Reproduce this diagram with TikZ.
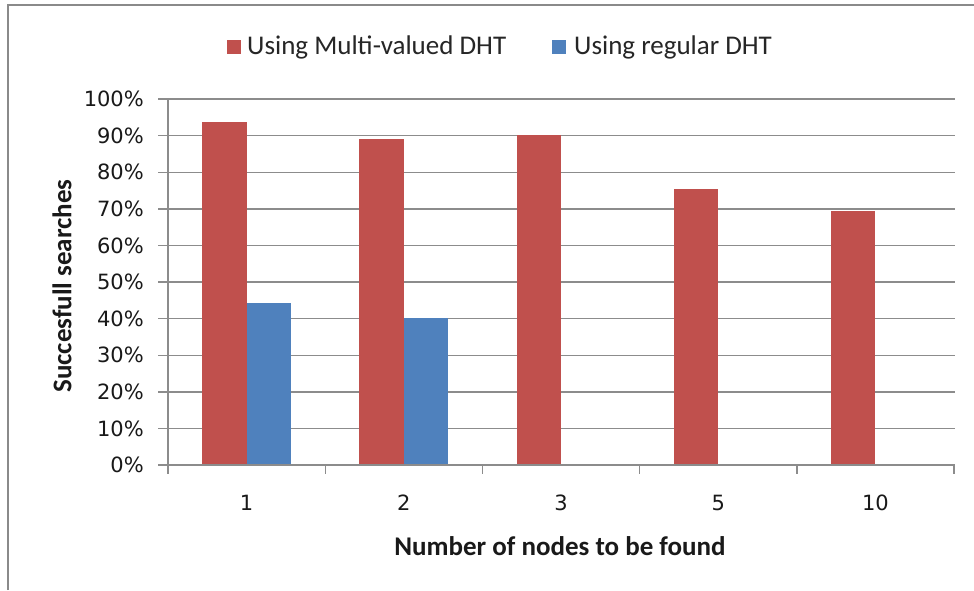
\documentclass[tikz,border=0pt]{standalone}
\usepackage{fontspec}
\setmainfont{Carlito}
\newfontfamily\tickfont{DejaVu Sans}
\definecolor{barred}{HTML}{C0504D}
\definecolor{barblue}{HTML}{4F81BD}
\definecolor{gridgray}{HTML}{8C8C8C}
\definecolor{framegray}{HTML}{8A8A8A}
\begin{document}
\begin{tikzpicture}[x=1pt,y=-1pt,
  grid line/.style={draw=gridgray,line width=1.4pt},
  axis line/.style={draw=gridgray,line width=1.4pt},
  redbar/.style={fill=barred,draw=none},
  bluebar/.style={fill=barblue,draw=none},
  ticklabel/.style={font=\tickfont\fontsize{21}{22}\selectfont,text=black!90,inner sep=0pt},
  legendtext/.style={font=\fontsize{27}{28}\selectfont,text=black!85,inner sep=0pt,anchor=west},
  axistitle/.style={font=\bfseries\fontsize{27}{28}\selectfont,text=black!90,inner sep=0pt}]
\useasboundingbox (0,0) rectangle (974,590);
\fill[white] (0,0) rectangle (974,590);
% chart frame (left and top edges)
\draw[framegray,line width=2pt] (8,590) -- (8,5) -- (974,5);

% horizontal grid lines, y ticks and their labels (0% at y=465, 10% = 36.6)
\foreach \k in {0,...,10}{
  \pgfmathsetmacro{\yy}{465-36.6*\k}
  \coordinate (g\k) at (168,\yy);
  \coordinate (gt\k) at (158,\yy);
  \node[ticklabel,anchor=east] (yl\k) at (144,\yy) {\pgfmathprint{int(10*\k)}\%};
  \draw[axis line] (gt\k) -- (g\k);
}
\foreach \k in {1,...,10}{
  \coordinate (ge\k) at (955,{465-36.6*\k});
  \draw[grid line] (g\k) -- (ge\k);
}

% bars: category width 157.2, red left of centre, blue right of centre
\foreach \i/\r/\b in {0/93.6/44.2, 1/89.1/40.1, 2/90.2/0, 3/75.3/0, 4/69.4/0}{
  \pgfmathsetmacro{\c}{168+157.2*(\i+0.5)}
  \fill[redbar] (\c-44.5,465) rectangle (\c,{465-3.66*\r});
  \ifdim\b pt>0pt
    \fill[bluebar] (\c,465) rectangle (\c+44.5,{465-3.66*\b});
  \fi
}

% axes
\coordinate (origin) at (168,465);
\coordinate (ytop) at (168,99);
\coordinate (xend) at (955,465);
\draw[axis line] (origin) -- (ytop);
\draw[axis line] (origin) -- (xend);
\foreach \j in {0,...,5}{
  \coordinate (xt\j) at ({168+157.2*\j},465);
  \coordinate (xb\j) at ({168+157.2*\j},474);
  \draw[axis line] (xt\j) -- (xb\j);
}

% category labels
\foreach \i/\lab in {0/1,1/2,2/3,3/5,4/10}{
  \node[ticklabel] (xl\i) at ({168+157.2*(\i+0.5)},503) {\lab};
}

% axis titles
\node[axistitle] (xtitle) at (560,546) {Number of nodes to be found};
\node[axistitle,rotate=90] (ytitle) at (62,286) {Succesfull searches};

% legend
\fill[barred] (227,40) rectangle (241,54);
\node[legendtext] (leg1) at (247,47) {Using Multi-valued DHT};
\fill[barblue] (552,40) rectangle (566,54);
\node[legendtext] (leg2) at (574,47) {Using regular DHT};
\end{tikzpicture}
\end{document}
